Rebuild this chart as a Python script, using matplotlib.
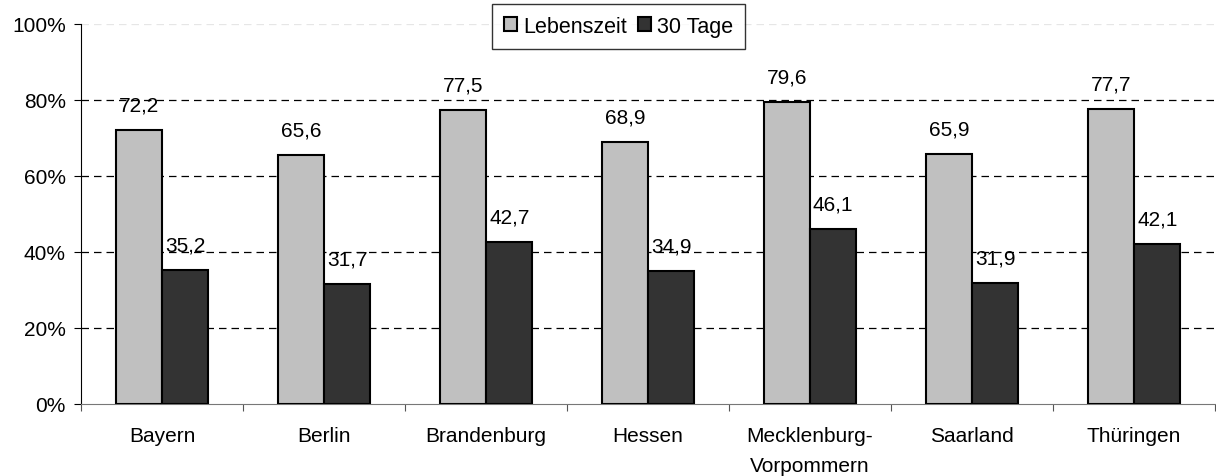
import matplotlib
matplotlib.use("Agg")
import matplotlib.pyplot as plt
import numpy as np

categories = ["Bayern", "Berlin", "Brandenburg", "Hessen", "Mecklenburg-\nVorpommern", "Saarland", "Thüringen"]
lebenszeit = [72.2, 65.6, 77.5, 68.9, 79.6, 65.9, 77.7]
tage30 = [35.2, 31.7, 42.7, 34.9, 46.1, 31.9, 42.1]
series_names = ["Lebenszeit", "30 Tage"]
yticks = [0, 20, 40, 60, 80, 100]
ytick_labels = ["0%", "20%", "40%", "60%", "80%", "100%"]

plt.rcParams['font.family'] = ['Liberation Sans', 'DejaVu Sans']
fig = plt.figure(figsize=(12.16, 4.77), dpi=100)
ax = fig.add_axes([81/1216, 1-405/477, (1215-81)/1216, (405-25)/477])

x = np.arange(len(categories))
w = 0.287
b1 = ax.bar(x - w/2, lebenszeit, w, color="#c0c0c0", edgecolor="black", linewidth=1.5, label=series_names[0], zorder=3)
b2 = ax.bar(x + w/2, tage30, w, color="#333333", edgecolor="black", linewidth=1.5, label=series_names[1], zorder=3)

for rects, vals in ((b1, lebenszeit), (b2, tage30)):
    for r, v in zip(rects, vals):
        ax.annotate(f"{v:.1f}".replace(".", ","), (r.get_x() + r.get_width()/2, v),
                    xytext=(0, 14), textcoords="offset points", ha="center", va="baseline",
                    fontsize=15, zorder=4)

ax.set_xlim(-0.5, len(categories) - 0.5)
ax.set_ylim(0, 100)
ax.set_yticks(yticks)
ax.set_yticklabels(ytick_labels, fontsize=15)
for yv in yticks[1:-1]:
    ax.axhline(yv, color="black", linestyle=(0, (6, 4)), linewidth=0.9, zorder=1)
ax.axhline(100, color="#e6e6e6", linestyle=(0, (6, 4)), linewidth=0.9, zorder=1)

ax.set_xticks(np.arange(len(categories) + 1) - 0.5, minor=False)
ax.set_xticklabels([""] * (len(categories) + 1))
ax.set_xticks(x, minor=True)
ax.set_xticklabels(categories, minor=True, fontsize=15, linespacing=1.78)
ax.tick_params(axis="x", which="minor", length=0, pad=15.5)
ax.tick_params(axis="x", which="major", length=5, color="#555555", direction="out")
ax.tick_params(axis="y", length=5, direction="out", pad=6)

for s in ("top", "right"):
    ax.spines[s].set_visible(False)
ax.spines["bottom"].set_color("#777777")
ax.spines["left"].set_color("black")

leg = fig.legend(handles=[b1, b2], labels=series_names, loc="upper left",
                 bbox_to_anchor=(492/1216, 1-5/477), fontsize=15.5, frameon=True,
                 fancybox=False, edgecolor="black", handlelength=0.6, handleheight=0.6,
                 handletextpad=0.3, columnspacing=0.5, ncol=2, borderpad=0.55, borderaxespad=0)
leg.get_frame().set_linewidth(1.0)

fig.savefig("out.png", dpi=100)
